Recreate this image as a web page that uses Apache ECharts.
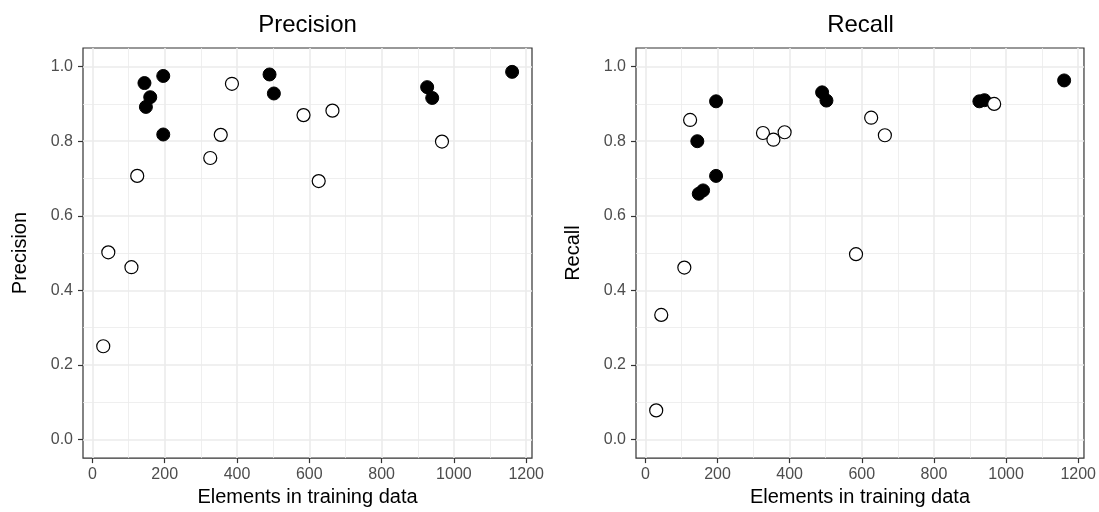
<!DOCTYPE html>
<html>
<head>
<meta charset="utf-8">
<script src="https://cdn.jsdelivr.net/npm/echarts@6/dist/echarts.min.js"></script>
<style>
  html, body { margin: 0; padding: 0; background: #fff; }
  #chart { width: 1099px; height: 512px; }
</style>
</head>
<body>
<div id="chart"></div>
<script>
// data
var elementsOpen = [30, 44, 108, 124, 326, 355, 386, 584, 626, 664, 967];
var precisionOpen = [0.250, 0.502, 0.462, 0.707, 0.755, 0.817, 0.954, 0.870, 0.693, 0.882, 0.799];
var recallOpen = [0.078, 0.334, 0.461, 0.857, 0.822, 0.804, 0.824, 0.497, 0.863, 0.816, 0.900];

var elementsFilled = [144, 148, 160, 196, 196, 490, 502, 926, 940, 1161];
var precisionFilled = [0.956, 0.892, 0.918, 0.975, 0.818, 0.979, 0.928, 0.945, 0.916, 0.986];
var recallFilled = [0.800, 0.659, 0.668, 0.907, 0.707, 0.931, 0.909, 0.907, 0.910, 0.963];

var xTicks = [0, 200, 400, 600, 800, 1000, 1200];
var xMinor = [100, 300, 500, 700, 900, 1100];
var yTicks = [0, 0.2, 0.4, 0.6, 0.8, 1.0];
var yMinor = [0.1, 0.3, 0.5, 0.7, 0.9];

var panels = ['Precision', 'Recall'];

var FONT = "'Liberation Sans', Arial, sans-serif";
var GRIDLINE = '#EBEBEB';

function pairs(xs, ys) {
  return xs.map(function (x, i) { return [x, ys[i]]; });
}

var chart = echarts.init(document.getElementById('chart'), null, { renderer: 'canvas' });

var grids = [
  { left: 83, top: 48, width: 449, height: 414 },
  { left: 636, top: 48, width: 449, height: 414 }
];

var xAxes = [], yAxes = [], series = [], titles = [];

grids.forEach(function (g, i) {
  g.show = true;
  g.borderColor = '#333333';
  g.borderWidth = 1.2;
  g.backgroundColor = 'transparent';
  g.containLabel = false;

  // main x axis
  xAxes.push({
    gridIndex: i, type: 'value', min: -26, max: 1216, position: 'bottom',
    name: 'Elements in training data', nameLocation: 'middle', nameGap: 28,
    nameTextStyle: { fontSize: 20, color: '#000', fontFamily: FONT },
    axisLine: { show: false, onZero: false },
    axisTick: { show: true, length: 5, customValues: xTicks, lineStyle: { color: '#333333', width: 1.2 } },
    axisLabel: {
      customValues: xTicks, margin: 8, fontSize: 16, color: '#4D4D4D', fontFamily: FONT,
      formatter: function (v) { return String(v); }
    },
    splitLine: { show: true, lineStyle: { color: GRIDLINE, width: 1.6 } },
    z: 1
  });
  // minor x grid
  xAxes.push({
    gridIndex: i, type: 'value', min: -26, max: 1216, position: 'top',
    axisLine: { show: false, onZero: false },
    axisTick: { show: false, customValues: xMinor },
    axisLabel: { show: false, customValues: xMinor },
    splitLine: { show: true, lineStyle: { color: GRIDLINE, width: 0.8 } },
    z: 0
  });
  // main y axis
  yAxes.push({
    gridIndex: i, type: 'value', min: -0.05, max: 1.05, position: 'left',
    name: panels[i], nameLocation: 'middle', nameGap: 53,
    nameTextStyle: { fontSize: 20, color: '#000', fontFamily: FONT },
    axisLine: { show: false, onZero: false },
    axisTick: { show: true, length: 5, customValues: yTicks, lineStyle: { color: '#333333', width: 1.2 } },
    axisLabel: {
      customValues: yTicks, margin: 10, fontSize: 16, color: '#4D4D4D', fontFamily: FONT,
      formatter: function (v) { return v.toFixed(1); }
    },
    splitLine: { show: true, lineStyle: { color: GRIDLINE, width: 1.6 } },
    z: 1
  });
  // minor y grid
  yAxes.push({
    gridIndex: i, type: 'value', min: -0.05, max: 1.05, position: 'right',
    axisLine: { show: false, onZero: false },
    axisTick: { show: false, customValues: yMinor },
    axisLabel: { show: false, customValues: yMinor },
    splitLine: { show: true, lineStyle: { color: GRIDLINE, width: 0.8 } },
    z: 0
  });

  titles.push({
    text: panels[i],
    left: g.left + g.width / 2, top: 13, textAlign: 'center', padding: 0,
    textStyle: { fontSize: 24, fontWeight: 'normal', color: '#000', fontFamily: FONT }
  });
});

var yFilled = [precisionFilled, recallFilled];
var yOpen = [precisionOpen, recallOpen];

for (var i = 0; i < 2; i++) {
  series.push({
    type: 'scatter', xAxisIndex: i * 2, yAxisIndex: i * 2,
    data: pairs(elementsFilled, yFilled[i]),
    symbol: 'circle', symbolSize: 13,
    itemStyle: { color: '#000', borderColor: '#000', borderWidth: 1, opacity: 1 },
    emphasis: { disabled: true },
    z: 3
  });
  series.push({
    type: 'scatter', xAxisIndex: i * 2, yAxisIndex: i * 2,
    data: pairs(elementsOpen, yOpen[i]),
    symbol: 'circle', symbolSize: 13,
    itemStyle: { color: '#fff', borderColor: '#000', borderWidth: 1.2, opacity: 1 },
    emphasis: { disabled: true },
    z: 4
  });
}

chart.setOption({
  animation: false,
  backgroundColor: '#fff',
  title: titles,
  grid: grids,
  xAxis: xAxes,
  yAxis: yAxes,
  series: series
});
</script>
</body>
</html>
